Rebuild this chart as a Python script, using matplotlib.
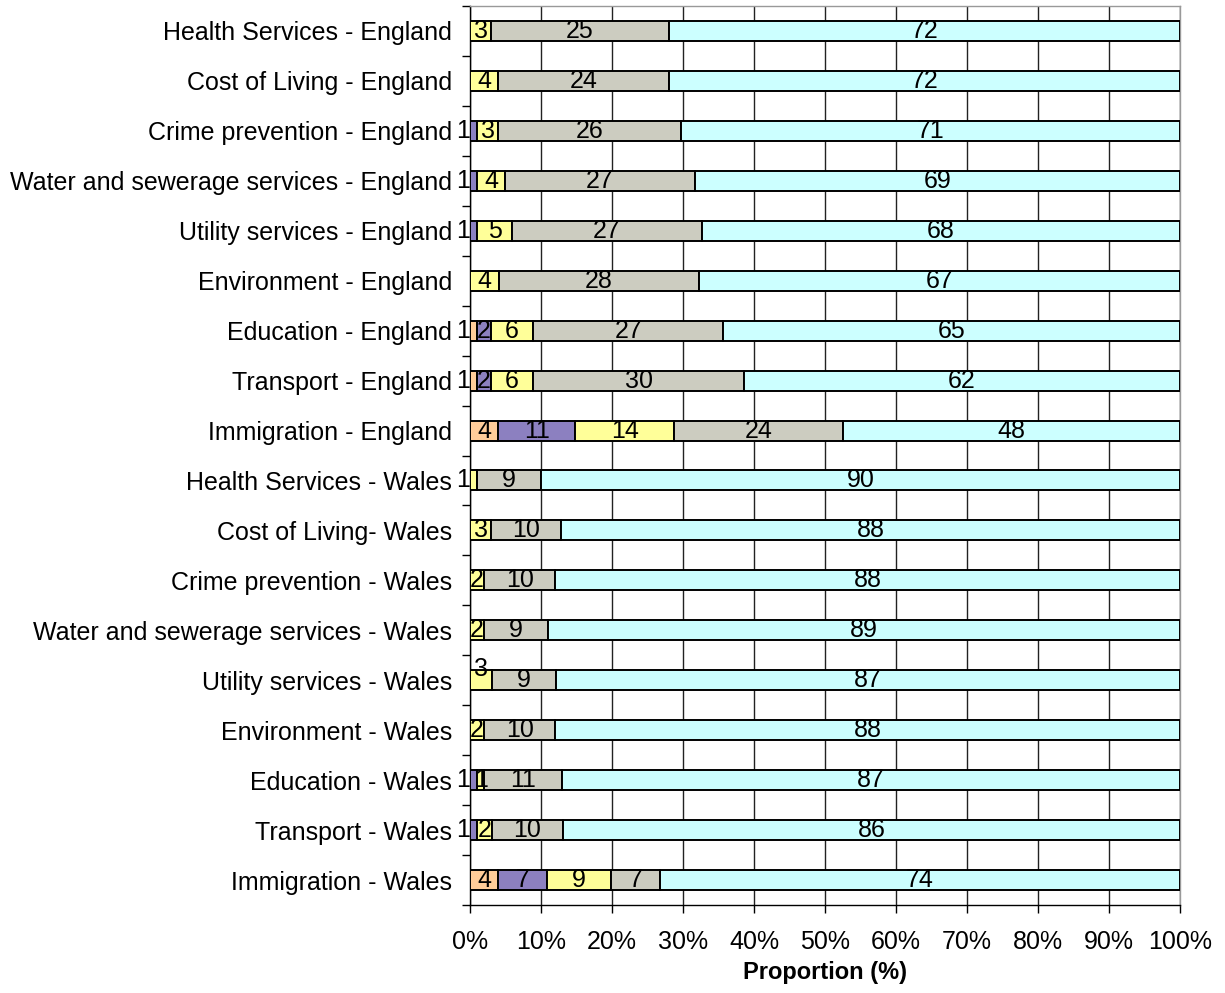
import matplotlib
matplotlib.use("Agg")
import matplotlib.pyplot as plt
import numpy as np

plt.rcParams['font.family'] = ['Liberation Sans', 'DejaVu Sans']

categories = [
    "Health Services - England",
    "Cost of Living - England",
    "Crime prevention - England",
    "Water and sewerage services - England",
    "Utility services - England",
    "Environment - England",
    "Education - England",
    "Transport - England",
    "Immigration - England",
    "Health Services - Wales",
    "Cost of Living- Wales",
    "Crime prevention - Wales",
    "Water and sewerage services - Wales",
    "Utility services - Wales",
    "Environment - Wales",
    "Education - Wales",
    "Transport - Wales",
    "Immigration - Wales",
]

# Response shares (%) per category, five response groups stacked left to right
group1 = [0, 0, 0, 0, 0, 0, 1, 1, 4, 0, 0, 0, 0, 0, 0, 0, 0, 4]
group2 = [0, 0, 1, 1, 1, 0, 2, 2, 11, 0, 0, 0, 0, 0, 0, 1, 1, 7]
group3 = [3, 4, 3, 4, 5, 4, 6, 6, 14, 1, 3, 2, 2, 3, 2, 1, 2, 9]
group4 = [25, 24, 26, 27, 27, 28, 27, 30, 24, 9, 10, 10, 9, 9, 10, 11, 10, 7]
group5 = [72, 72, 71, 69, 68, 67, 65, 62, 48, 90, 88, 88, 89, 87, 88, 87, 86, 74]

xtick_labels = ["0%", "10%", "20%", "30%", "40%", "50%", "60%", "70%", "80%", "90%", "100%"]

colors = ["#FFCC99", "#8C80C0", "#FFFF99", "#CCCCC0", "#CCFFFF"]

series = np.array([group1, group2, group3, group4, group5], dtype=float)
totals = series.sum(axis=0)
shares = series / totals * 100.0

fig = plt.figure(figsize=(12.25, 9.93), dpi=100)
ax = fig.add_axes([470 / 1225, 1 - 905 / 993, 710 / 1225, 899 / 993])

n = len(categories)
y = np.arange(n)
left = np.zeros(n)
fs = 18

for k in range(series.shape[0]):
    ax.barh(y, shares[k], left=left, height=0.4, color=colors[k],
            edgecolor="black", linewidth=1.4, zorder=3)
    left += shares[k]

# Value labels: a leading 1% segment is labelled just outside the axis
for i in range(n):
    start = 0.0
    first = True
    for k in range(series.shape[0]):
        v = series[k, i]
        w = shares[k, i]
        if v == 0:
            start += w
            continue
        if first and v == 1:
            ax.text(-1.0, y[i], f"{int(v)}", ha="center", va="center",
                    fontsize=fs, clip_on=False, zorder=5)
        else:
            dy = -0.22 if (categories[i] == "Utility services - Wales" and k == 2) else 0.0
            ax.text(start + w / 2, y[i] + dy, f"{int(v)}", ha="center", va="center",
                    fontsize=fs, zorder=5)
        first = False
        start += w

ax.set_xlim(0, 100)
ax.set_ylim(n - 0.5, -0.5)
ax.set_xticks(np.arange(0, 101, 10))
ax.set_xticklabels(xtick_labels, fontsize=fs)
ax.set_yticks(y)
ax.set_yticklabels(categories, fontsize=fs)
ax.set_yticks(np.arange(-0.5, n, 1.0), minor=True)

ax.tick_params(axis="y", which="major", length=0, pad=13)
ax.tick_params(axis="y", which="minor", length=6, width=1.0, direction="out")
ax.tick_params(axis="x", length=6, width=1.0, direction="out", pad=12)

ax.grid(axis="x", color="#222222", linewidth=1.0, zorder=0)
ax.set_axisbelow(True)

for side in ["top", "right"]:
    ax.spines[side].set_color("#999999")
    ax.spines[side].set_linewidth(1.0)
for side in ["left", "bottom"]:
    ax.spines[side].set_color("black")
    ax.spines[side].set_linewidth(1.0)

ax.set_xlabel("Proportion (%)", fontsize=17, fontweight="bold", labelpad=5)

fig.savefig("out.png", dpi=100)
